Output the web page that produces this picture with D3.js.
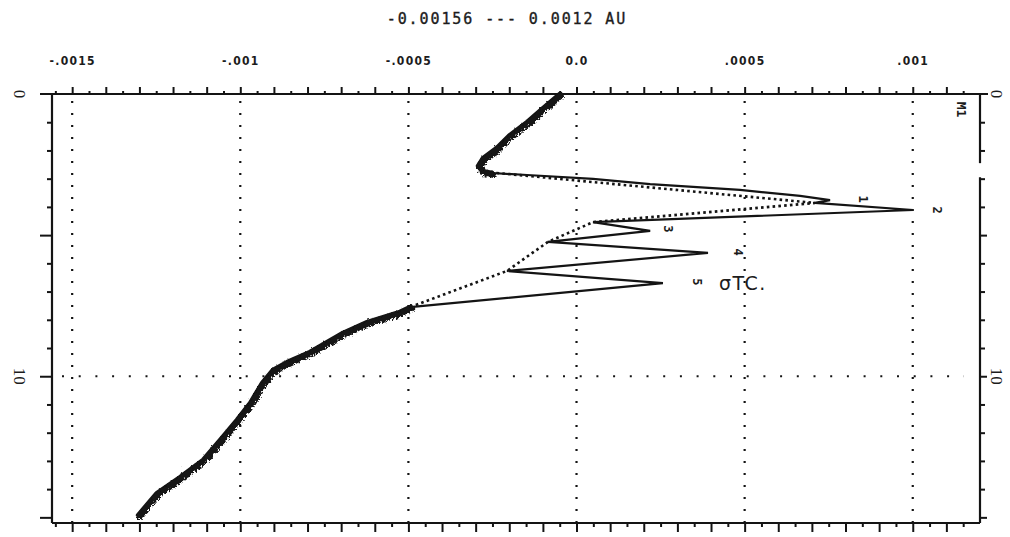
<!DOCTYPE html>
<html>
<head>
<meta charset="utf-8">
<script src="https://cdn.jsdelivr.net/npm/d3@7"></script>
<style>
  body { margin: 0; background: #fff; }
  svg { display: block; }
</style>
</head>
<body>
<svg id="chart" width="1010" height="537"></svg>
<script>
// Detector trace: retention time (min) against absorbance (AU)
// Noisy baseline before the peak group
const leadTime = [0.00, 0.50, 0.99, 1.45, 1.91, 2.27, 2.55, 2.73, 2.80];
const leadAU   = [-0.000050, -0.000100, -0.000147, -0.000198, -0.000237, -0.000278, -0.000293, -0.000281, -0.000251];

// Peak group (peaks 1-5)
const peakTime = [2.80, 2.87, 3.01, 3.19, 3.40, 3.61, 3.76, 3.86, 4.11, 4.54, 4.85, 5.24, 5.63, 6.27, 6.70, 7.55];
const peakAU   = [-0.000251, -0.000147, 0.000049, 0.000219, 0.000486, 0.000665, 0.000754, 0.000709, 0.001001,
                  0.000049, 0.000219, -0.000085, 0.000391, -0.000207, 0.000257, -0.000495];

// Noisy baseline after the peak group
const tailTime = [7.55, 7.72, 8.08, 8.47, 9.14, 9.50, 9.78, 10.24, 10.95, 11.55, 12.26, 12.97, 13.57, 14.14, 14.92];
const tailAU   = [-0.000495, -0.000525, -0.000623, -0.000695, -0.000793, -0.000861, -0.000903, -0.000935,
                  -0.000971, -0.001010, -0.001060, -0.001111, -0.001179, -0.001248, -0.001304];

// Integration baseline joining the valleys
const baseTime = [2.76, 3.86, 4.54, 5.24, 6.27, 7.55];
const baseAU   = [-0.000272, 0.000709, 0.000049, -0.000085, -0.000207, -0.000495];

// Peak numbers and where they are printed
const peakLabels    = ["1", "2", "3", "4", "5"];
const peakLabelTime = [3.72, 4.11, 4.78, 5.60, 6.66];
const peakLabelAU   = [0.000852, 0.001072, 0.000272, 0.000480, 0.000358];

// Axes
const auDomain     = [-0.00156, 0.0012];
const timeDomain   = [0, 15.2];
const auTicks      = [-0.0015, -0.001, -0.0005, 0, 0.0005, 0.001];
const auTickLabels = ["-.0015", "-.001", "-.0005", "0.0", ".0005", ".001"];
const timeLabels   = [0, 10];
const timeGrid     = [10];
const titleText    = "-0.00156 --- 0.0012 AU";
const channelName  = "M1";
const noteText     = "σTC.";

const svg = d3.select("#chart");
const ink = "#141414";

const x = d3.scaleLinear().domain(auDomain).range([52, 980]);
const y = d3.scaleLinear().domain(timeDomain).range([94, 523]);

// roughened stroke for the noisy baseline
const defs = svg.append("defs");
const f = defs.append("filter").attr("id", "rough")
  .attr("x", "-10%").attr("y", "-10%").attr("width", "120%").attr("height", "120%");
f.append("feTurbulence").attr("type", "turbulence").attr("baseFrequency", 0.3)
  .attr("numOctaves", 2).attr("seed", 4).attr("result", "n");
f.append("feDisplacementMap").attr("in", "SourceGraphic").attr("in2", "n")
  .attr("scale", 6).attr("xChannelSelector", "R").attr("yChannelSelector", "G");

// title
svg.append("text")
  .attr("x", 507).attr("y", 24)
  .attr("text-anchor", "middle")
  .attr("font-family", "'DejaVu Sans Mono', monospace")
  .attr("font-size", 15).attr("letter-spacing", 1.9)
  .attr("fill", "#1c1c1c").attr("stroke", "#1c1c1c").attr("stroke-width", 0.35)
  .text(titleText);

// grid
const grid = svg.append("g").attr("stroke", ink).attr("fill", "none");
grid.selectAll("line.v").data(auTicks).join("line")
  .attr("x1", d => x(d)).attr("x2", d => x(d))
  .attr("y1", y(timeDomain[0]) + 7).attr("y2", y(timeDomain[1]))
  .attr("stroke-width", 2.2).attr("stroke-dasharray", "2,10");
grid.selectAll("line.h").data(timeGrid).join("line")
  .attr("x1", x(auDomain[0]) + 10).attr("x2", x(auDomain[1]) - 16)
  .attr("y1", d => y(d)).attr("y2", d => y(d))
  .attr("stroke-width", 2.2).attr("stroke-dasharray", "2,14.7");

// fine tick values, long ones every 0.0001
const fine = d3.range(-31, 24).map(i => i * 5e-5);
const isLong = d => Math.round(d / 5e-5) % 2 === 0;

// top axis
const topAx = svg.append("g").attr("transform", `translate(0,${y(0)})`)
  .call(d3.axisTop(x).tickValues(fine).tickSize(7).tickSizeOuter(0).tickFormat(""));
topAx.select(".domain").remove();
topAx.selectAll(".tick line").attr("stroke", ink).attr("stroke-width", 2)
  .attr("y2", d => isLong(d) ? -7 : -3);

const topLab = svg.append("g").attr("transform", `translate(0,68)`)
  .call(d3.axisTop(x).tickValues(auTicks).tickSize(0).tickFormat((d, i) => auTickLabels[i]));
topLab.select(".domain").remove();
topLab.selectAll("text")
  .attr("font-family", "'DejaVu Sans Condensed', 'DejaVu Sans', sans-serif")
  .attr("font-size", 12).attr("font-weight", "bold").attr("letter-spacing", 1.3)
  .attr("fill", "#1c1c1c").attr("dy", 0);

// bottom axis
const botAx = svg.append("g").attr("transform", `translate(0,${y(timeDomain[1])})`)
  .call(d3.axisBottom(x).tickValues(fine).tickSize(9).tickSizeOuter(0).tickFormat(""));
botAx.select(".domain").remove();
botAx.selectAll(".tick line").attr("stroke", ink).attr("stroke-width", 2)
  .attr("y2", d => isLong(d) ? 9 : 4);

// time ticks
const minutes = d3.range(0, 16);
const leftAx = svg.append("g").attr("transform", `translate(${x(auDomain[0]) - 1},0)`)
  .call(d3.axisLeft(y).tickValues(minutes.slice(1)).tickSize(4).tickSizeOuter(0).tickFormat(""));
leftAx.select(".domain").remove();
leftAx.selectAll(".tick line").attr("stroke", ink).attr("stroke-width", 2)
  .attr("x2", d => d % 5 === 0 ? -11 : -4);

const rightAx = svg.append("g").attr("transform", `translate(${x(auDomain[1]) + 1},0)`)
  .call(d3.axisRight(y).tickValues(minutes.slice(1)).tickSize(4).tickSizeOuter(0).tickFormat(""));
rightAx.select(".domain").remove();
rightAx.selectAll(".tick line").attr("stroke", ink).attr("stroke-width", 2)
  .attr("x2", d => d % 5 === 0 ? 6 : 4);

// frame
const frame = svg.append("g").attr("stroke", ink).attr("stroke-width", 2.2);
frame.append("line").attr("x1", 40).attr("x2", 988).attr("y1", y(0)).attr("y2", y(0));
frame.append("line").attr("x1", x(auDomain[0])).attr("x2", x(auDomain[0]))
  .attr("y1", y(0)).attr("y2", y(timeDomain[1]));
frame.append("line").attr("x1", x(auDomain[0])).attr("x2", x(auDomain[1]))
  .attr("y1", y(timeDomain[1])).attr("y2", y(timeDomain[1]));
frame.append("line").attr("x1", x(auDomain[1])).attr("x2", x(auDomain[1]))
  .attr("y1", y(0)).attr("y2", y(2.45));
frame.append("line").attr("x1", x(auDomain[1])).attr("x2", x(auDomain[1]))
  .attr("y1", y(2.95)).attr("y2", y(timeDomain[1]));

// time labels, printed sideways on both edges
const tl = svg.append("g")
  .attr("font-family", "'Liberation Serif', serif").attr("font-size", 17).attr("fill", "#1c1c1c");
[[20, timeLabels], [997, timeLabels]].forEach(([px, vals]) => {
  tl.selectAll(null).data(vals).join("text")
    .attr("transform", d => `translate(${px},${y(d)}) rotate(90)`)
    .attr("text-anchor", "middle").attr("dy", "0.35em")
    .text(d => d);
});

// trace
const line = (ts, vs) => d3.line().x(i => x(vs[i])).y(i => y(ts[i]))(d3.range(ts.length));

svg.append("path").attr("d", line(baseTime, baseAU))
  .attr("fill", "none").attr("stroke", ink).attr("stroke-width", 2.6)
  .attr("stroke-dasharray", "2.6,3.2");

svg.append("path").attr("d", line(peakTime, peakAU))
  .attr("fill", "none").attr("stroke", ink).attr("stroke-width", 2.2)
  .attr("stroke-linejoin", "miter");

[[leadTime, leadAU], [tailTime, tailAU]].forEach(([ts, vs]) => {
  const d = line(ts, vs);
  svg.append("path").attr("d", d)
    .attr("fill", "none").attr("stroke", ink).attr("stroke-width", 4.5)
    .attr("stroke-linecap", "round").attr("stroke-linejoin", "round");
  svg.append("path").attr("d", d)
    .attr("fill", "none").attr("stroke", ink).attr("stroke-width", 6)
    .attr("stroke-linecap", "round").attr("stroke-linejoin", "round")
    .attr("filter", "url(#rough)");
});

// peak numbers
svg.append("g").selectAll("text").data(peakLabels).join("text")
  .attr("transform", (d, i) => `translate(${x(peakLabelAU[i])},${y(peakLabelTime[i])}) rotate(90)`)
  .attr("text-anchor", "middle").attr("dy", "0.35em")
  .attr("font-family", "'DejaVu Sans Mono', monospace")
  .attr("font-size", 12).attr("font-weight", "bold").attr("fill", "#1c1c1c")
  .text(d => d);

// channel name
svg.append("text")
  .attr("transform", `translate(${x(auDomain[1]) - 18},${y(0.55)}) rotate(90)`)
  .attr("text-anchor", "middle").attr("dy", "0.35em")
  .attr("font-family", "'DejaVu Sans Mono', monospace")
  .attr("font-size", 13).attr("font-weight", "bold").attr("fill", "#1c1c1c")
  .text(channelName);

// handwritten note
svg.append("text")
  .attr("x", 719).attr("y", 290)
  .attr("font-family", "'DejaVu Sans', sans-serif")
  .attr("font-size", 19).attr("fill", "#1c1c1c").attr("letter-spacing", 1.5)
  .text(noteText);
</script>
</body>
</html>
